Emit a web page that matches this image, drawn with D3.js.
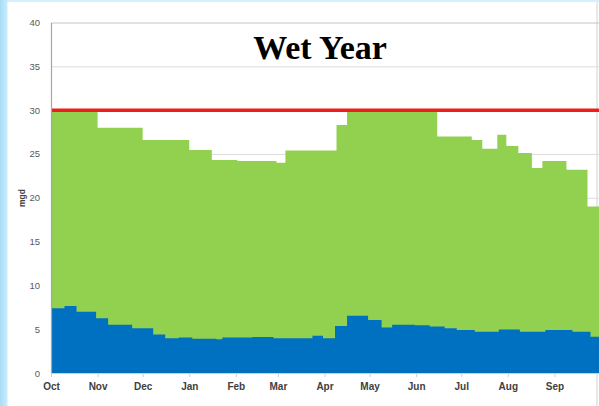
<!DOCTYPE html>
<html>
<head>
<meta charset="utf-8">
<script src="https://cdn.jsdelivr.net/npm/d3@7/dist/d3.min.js"></script>
<style>
  html, body { margin: 0; padding: 0; background: #ffffff; }
  svg { display: block; }
</style>
</head>
<body>
<svg id="chart" width="599" height="406"></svg>
<script>
// Water-year months and the day (from Oct 1) each one starts on
const monthLabels = ["Oct", "Nov", "Dec", "Jan", "Feb", "Mar", "Apr", "May", "Jun", "Jul", "Aug", "Sep"];
const monthStartDays = [0, 31, 61, 92, 123, 151, 182, 212, 243, 273, 304, 335];
const yearDays = 365;

// Y axis ticks (mgd)
const yTicks = [0, 5, 10, 15, 20, 25, 30, 35, 40];

// Capacity limit
const limitValue = 30;

// Total supply: step start day and value (mgd)
const totalStepDays = [0, 31, 61, 92, 107, 124, 150, 156, 190, 197, 257, 280, 287, 297, 303, 311, 320, 327, 343, 357];
const totalValues = [30, 28.0, 26.6, 25.45, 24.3, 24.2, 24.0, 25.4, 28.3, 30, 27.0, 26.6, 25.6, 27.2, 25.9, 25.1, 23.4, 24.2, 23.2, 19.0];

// Base supply: step start day and value (mgd)
const baseStepDays = [0, 9, 17, 30, 38, 54, 68, 76, 85, 94, 110, 114, 134, 148, 174, 181, 189, 197, 211, 220, 227, 242, 252, 262, 270, 282, 298, 312, 329, 347, 359];
const baseValues = [7.38, 7.65, 7.0, 6.24, 5.5, 5.1, 4.4, 3.96, 4.05, 3.9, 3.85, 4.05, 4.1, 3.96, 4.26, 3.96, 5.36, 6.54, 6.05, 5.2, 5.5, 5.45, 5.3, 5.1, 4.9, 4.72, 4.97, 4.72, 4.9, 4.72, 4.15];

const svg = d3.select("#chart");
const W = 599, H = 406;
const plot = { left: 51, right: 599.5, top: 22.5, bottom: 373 };

// Page background: pale blue band on the left and top edges
const defs = svg.append("defs");
const grad = defs.append("linearGradient").attr("id", "edge").attr("x1", 0).attr("x2", 1).attr("y1", 0).attr("y2", 0);
grad.append("stop").attr("offset", 0).attr("stop-color", "#a8dcf6");
grad.append("stop").attr("offset", 1).attr("stop-color", "#cdeefc");
svg.append("rect").attr("x", 0).attr("y", 0).attr("width", W).attr("height", H).attr("fill", "#d4f0fc");
svg.append("rect").attr("x", 0).attr("y", 0).attr("width", 8).attr("height", H).attr("fill", "url(#edge)");
svg.append("rect").attr("x", 7.5).attr("y", 2).attr("width", W - 7.5).attr("height", H - 2).attr("fill", "#ffffff");
svg.append("line").attr("x1", 597).attr("x2", 597).attr("y1", 2).attr("y2", H)
  .attr("stroke", "#d2d2d2").attr("stroke-width", 1);

const x = d3.scaleLinear().domain([0, yearDays]).range([plot.left, plot.right]);
const y = d3.scaleLinear().domain([0, 40]).range([plot.bottom, plot.top]);

// Horizontal gridlines
svg.append("g")
  .attr("transform", `translate(${plot.left},0)`)
  .call(d3.axisLeft(y).tickValues(yTicks.slice(1)).tickSize(-(plot.right - plot.left)).tickFormat(""))
  .call(g => g.select(".domain").remove())
  .call(g => g.selectAll(".tick line").attr("stroke", d => d === 40 ? "#c4c4c4" : "#dcdcdc").attr("stroke-width", 1));

// Step series built from start days
function stepPoints(days, values) {
  const pts = days.map((d, i) => ({ day: d, v: values[i] }));
  pts.push({ day: yearDays, v: values[values.length - 1] });
  return pts;
}

const area = d3.area()
  .curve(d3.curveStepAfter)
  .x(d => x(d.day))
  .y0(y(0))
  .y1(d => y(d.v));

svg.append("path")
  .datum(stepPoints(totalStepDays, totalValues))
  .attr("fill", "#92d050")
  .attr("d", area);

svg.append("path")
  .datum(stepPoints(baseStepDays, baseValues))
  .attr("fill", "#0070c0")
  .attr("d", area);

// Capacity limit line
svg.append("line")
  .attr("x1", x(0)).attr("x2", x(yearDays))
  .attr("y1", y(limitValue)).attr("y2", y(limitValue))
  .attr("stroke", "#ee1c1c").attr("stroke-width", 3.5);

// Y axis
const yAxis = svg.append("g")
  .attr("transform", `translate(${plot.left},0)`)
  .call(d3.axisLeft(y).tickValues(yTicks).tickSize(0).tickPadding(11));
yAxis.select(".domain").attr("stroke", "#a6a6a6").attr("stroke-width", 1.2);
yAxis.selectAll(".tick text")
  .attr("fill", "#595959")
  .style("font-family", "'Liberation Sans', Arial, sans-serif")
  .style("font-size", "9.5px");

// X axis
const xAxis = svg.append("g")
  .attr("transform", `translate(0,${plot.bottom})`)
  .call(d3.axisBottom(x).tickValues(monthStartDays).tickSize(4).tickPadding(6)
    .tickFormat((d, i) => monthLabels[i]));
xAxis.select(".domain").attr("stroke", "#d0d0d0").attr("stroke-width", 1);
xAxis.selectAll(".tick line").attr("stroke", "#d0d0d0");
xAxis.selectAll(".tick text")
  .attr("fill", "#404040")
  .style("font-family", "'Liberation Sans', Arial, sans-serif")
  .style("font-size", "10px")
  .style("font-weight", "bold");

// Y axis title
svg.append("text")
  .attr("transform", "translate(24.5,198) rotate(-90)")
  .attr("text-anchor", "middle")
  .attr("fill", "#404040")
  .style("font-family", "'Liberation Sans', Arial, sans-serif")
  .style("font-size", "8.5px")
  .style("font-weight", "bold")
  .text("mgd");

// Chart title
svg.append("text")
  .attr("x", 320).attr("y", 59)
  .attr("text-anchor", "middle")
  .attr("fill", "#000000")
  .style("font-family", "'Liberation Serif', 'Times New Roman', serif")
  .style("font-size", "34px")
  .style("font-weight", "bold")
  .text("Wet Year");
</script>
</body>
</html>
